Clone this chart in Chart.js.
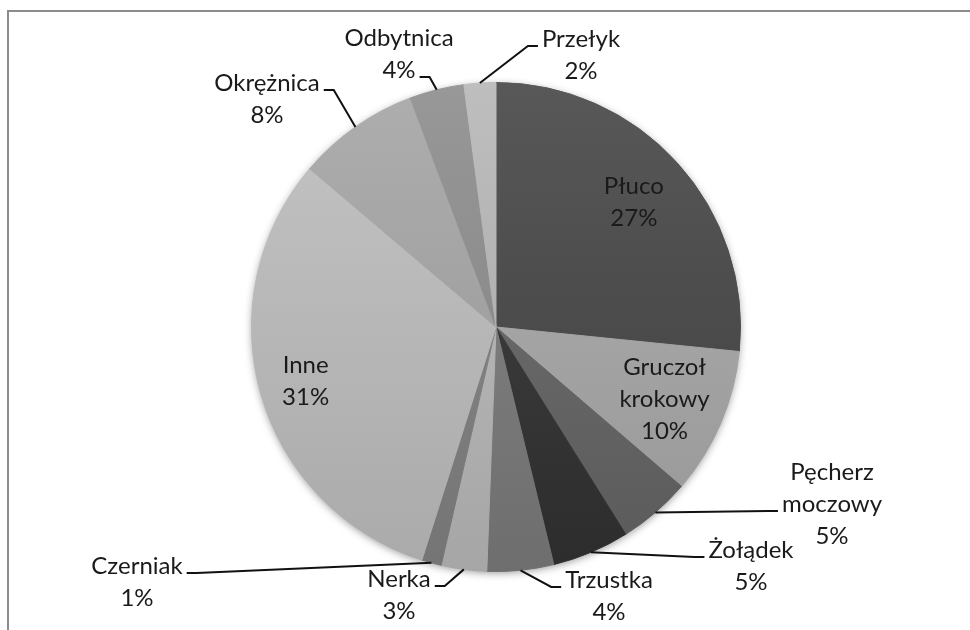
<!DOCTYPE html>
<html>
<head>
<meta charset="utf-8">
<script src="https://cdn.jsdelivr.net/npm/chart.js@4.4.1/dist/chart.umd.min.js"></script>
<style>
  html, body { margin:0; padding:0; background:#fff; overflow:hidden; }
  #wrap { position:relative; width:970px; height:630px; overflow:hidden; }
  #frame { position:absolute; left:7px; top:10px; width:1000px; height:700px;
           border-top:2px solid #8c8c8c; border-left:2px solid #8c8c8c; }
  canvas { position:absolute; left:0; top:0; }
</style>
</head>
<body>
<div id="wrap">
  <div id="frame"></div>
  <canvas id="pie" width="970" height="630"></canvas>
</div>
<script>
// ============ dane ============
const CATEGORIES = [['Płuco'], ['Gruczoł', 'krokowy'], ['Pęcherz', 'moczowy'], ['Żołądek'], ['Trzustka'],
                    ['Nerka'], ['Czerniak'], ['Inne'], ['Okrężnica'], ['Odbytnica'], ['Przełyk']];
const VALUES = [26.6, 9.7, 4.8, 5.1, 4.4, 3.0, 1.3, 31.3, 8.1, 3.6, 2.1];

// odcienie szarości wycinków (styl)
const SLICE_GRAYS = [74, 163, 102, 56, 122, 178, 128, 182, 160, 138, 176];

// rozmieszczenie etykiet: inside = ułamek promienia, albo przesunięcie od środka koła
const LABEL_LAYOUT = [
  {inside: 0.76},
  {inside: 0.75},
  {dx: 336, dy: 145, line: 1, side: 'left'},
  {dx: 255, dy: 223, line: 0, side: 'left'},
  {dx: 113, dy: 253, line: 0, side: 'left'},
  {dx: -97, dy: 252, line: 0, side: 'right'},
  {dx: -359, dy: 239, line: 0, side: 'right'},
  {inside: 0.81},
  {dx: -229, dy: -244, line: 0, side: 'right'},
  {dx: -97, dy: -289, line: 1, side: 'right'},
  {dx: 85, dy: -288, line: 0, side: 'left'},
];
const LINE_H = 32;

function grayGradient(c) {
  const g = SLICE_GRAYS[c.dataIndex];
  const area = c.chart.chartArea;
  if (!area) return `rgb(${g},${g},${g})`;
  const grad = c.chart.ctx.createLinearGradient(0, area.top, 0, area.bottom);
  const hi = Math.min(255, g + 14), lo = Math.max(0, g - 12);
  grad.addColorStop(0, `rgb(${hi},${hi},${hi})`);
  grad.addColorStop(1, `rgb(${lo},${lo},${lo})`);
  return grad;
}

const pieLabels = {
  id: 'pieLabels',
  beforeDatasetsDraw(chart) {
    // miękki cień pod kołem
    const arc = chart.getDatasetMeta(0).data[0];
    if (!arc) return;
    const {x, y, outerRadius} = arc.getProps(['x', 'y', 'outerRadius'], true);
    const ctx = chart.ctx;
    ctx.save();
    ctx.shadowColor = 'rgba(0,0,0,0.45)';
    ctx.shadowBlur = 9;
    ctx.shadowOffsetY = 2;
    ctx.fillStyle = '#999';
    ctx.beginPath();
    ctx.arc(x, y, outerRadius - 1, 0, Math.PI * 2);
    ctx.fill();
    ctx.restore();
  },
  afterDatasetsDraw(chart) {
    const ctx = chart.ctx;
    const meta = chart.getDatasetMeta(0);
    const total = VALUES.reduce((a, b) => a + b, 0);
    ctx.save();
    ctx.font = '24px Lato';
    ctx.fillStyle = '#1a1a1a';
    ctx.strokeStyle = '#111';
    ctx.lineWidth = 2;
    ctx.textAlign = 'center';
    ctx.textBaseline = 'middle';
    meta.data.forEach((arc, i) => {
      const {x, y, startAngle, endAngle, outerRadius} =
        arc.getProps(['x', 'y', 'startAngle', 'endAngle', 'outerRadius'], true);
      const mid = (startAngle + endAngle) / 2;
      const lines = CATEGORIES[i].concat([Math.round(VALUES[i] / total * 100) + '%']);
      const L = LABEL_LAYOUT[i];
      if (L.inside) {
        const cx = x + Math.cos(mid) * outerRadius * L.inside;
        const cy = y + Math.sin(mid) * outerRadius * L.inside;
        const top = cy - (lines.length - 1) * LINE_H / 2;
        lines.forEach((t, k) => ctx.fillText(t, cx, top + k * LINE_H));
        return;
      }
      const cx = x + L.dx, top = y + L.dy;
      lines.forEach((t, k) => ctx.fillText(t, cx, top + k * LINE_H));
      const w = ctx.measureText(lines[L.line]).width;
      const ay = top + L.line * LINE_H + 7;
      const ex = L.side === 'left' ? cx - w / 2 - 4 : cx + w / 2 + 4;
      const bx = L.side === 'left' ? ex - 10 : ex + 10;
      const sx = x + Math.cos(mid) * outerRadius, sy = y + Math.sin(mid) * outerRadius;
      ctx.beginPath();
      ctx.moveTo(sx, sy);
      ctx.lineTo(bx, ay);
      ctx.lineTo(ex, ay);
      ctx.stroke();
    });
    ctx.restore();
  }
};

new Chart(document.getElementById('pie').getContext('2d'), {
  type: 'pie',
  data: {
    labels: CATEGORIES.map(c => c.join(' ')),
    datasets: [{data: VALUES, backgroundColor: grayGradient, borderColor: grayGradient, borderWidth: 1}]
  },
  options: {
    responsive: false,
    animation: false,
    layout: {padding: {left: 251, right: 229, top: 81, bottom: 57}},
    plugins: {legend: {display: false}, tooltip: {enabled: false}}
  },
  plugins: [pieLabels]
});
</script>
</body>
</html>
